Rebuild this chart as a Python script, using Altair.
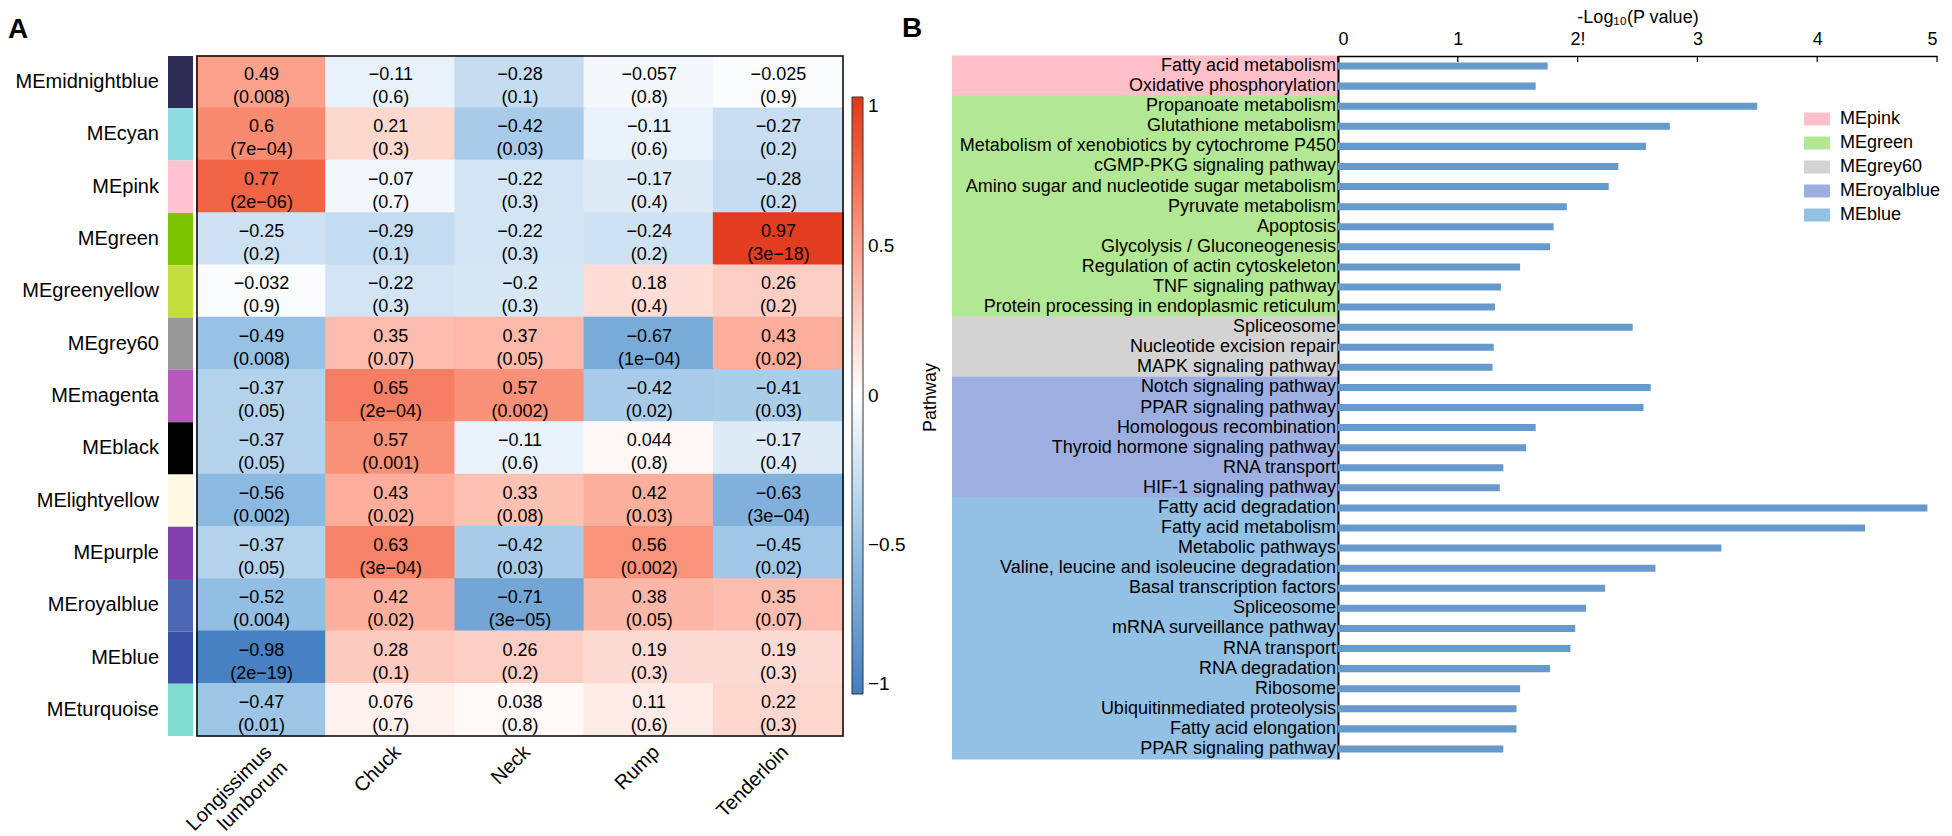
import altair as alt
import pandas as pd

FONT = "Liberation Sans"

# ---------------- Panel A data ----------------
modules = ["MEmidnightblue", "MEcyan", "MEpink", "MEgreen", "MEgreenyellow", "MEgrey60",
           "MEmagenta", "MEblack", "MElightyellow", "MEpurple", "MEroyalblue", "MEblue", "MEturquoise"]
module_colors = ["#2E2C55", "#8EDCE2", "#FFC2D1", "#7DC400", "#C3DE3C", "#999999",
                 "#B857BC", "#000000", "#FFF8E3", "#8241AE", "#4C68B3", "#3850A6", "#80DDD1"]
tissues = ["Longissimus\nlumborum", "Chuck", "Neck", "Rump", "Tenderloin"]
r_values = [
    [0.49, -0.11, -0.28, -0.057, -0.025],
    [0.6, 0.21, -0.42, -0.11, -0.27],
    [0.77, -0.07, -0.22, -0.17, -0.28],
    [-0.25, -0.29, -0.22, -0.24, 0.97],
    [-0.032, -0.22, -0.2, 0.18, 0.26],
    [-0.49, 0.35, 0.37, -0.67, 0.43],
    [-0.37, 0.65, 0.57, -0.42, -0.41],
    [-0.37, 0.57, -0.11, 0.044, -0.17],
    [-0.56, 0.43, 0.33, 0.42, -0.63],
    [-0.37, 0.63, -0.42, 0.56, -0.45],
    [-0.52, 0.42, -0.71, 0.38, 0.35],
    [-0.98, 0.28, 0.26, 0.19, 0.19],
    [-0.47, 0.076, 0.038, 0.11, 0.22],
]
p_values = [
    ["0.008", "0.6", "0.1", "0.8", "0.9"],
    ["7e-04", "0.3", "0.03", "0.6", "0.2"],
    ["2e-06", "0.7", "0.3", "0.4", "0.2"],
    ["0.2", "0.1", "0.3", "0.2", "3e-18"],
    ["0.9", "0.3", "0.3", "0.4", "0.2"],
    ["0.008", "0.07", "0.05", "1e-04", "0.02"],
    ["0.05", "2e-04", "0.002", "0.02", "0.03"],
    ["0.05", "0.001", "0.6", "0.8", "0.4"],
    ["0.002", "0.02", "0.08", "0.03", "3e-04"],
    ["0.05", "3e-04", "0.03", "0.002", "0.02"],
    ["0.004", "0.02", "3e-05", "0.05", "0.07"],
    ["2e-19", "0.1", "0.2", "0.3", "0.3"],
    ["0.01", "0.7", "0.8", "0.6", "0.3"],
]
colorbar_ticks = [-1, -0.5, 0, 0.5, 1]
heat_stops = [-1, -0.75, -0.5, -0.25, 0, 0.25, 0.5, 0.75, 1]
heat_colors = ["#447EC0", "#6CA0D2", "#96C1E4", "#CDE1F3", "#FFFFFF",
               "#FDD0C6", "#FCA08A", "#F2684A", "#E13719"]

# ---------------- Panel B data ----------------
pathways = [
    "Fatty acid metabolism", "Oxidative phosphorylation",
    "Propanoate metabolism", "Glutathione metabolism",
    "Metabolism of xenobiotics by cytochrome P450", "cGMP-PKG signaling pathway",
    "Amino sugar and nucleotide sugar metabolism", "Pyruvate metabolism", "Apoptosis",
    "Glycolysis / Gluconeogenesis", "Regulation of actin cytoskeleton", "TNF signaling pathway",
    "Protein processing in endoplasmic reticulum",
    "Spliceosome", "Nucleotide excision repair", "MAPK signaling pathway",
    "Notch signaling pathway", "PPAR signaling pathway", "Homologous recombination",
    "Thyroid hormone signaling pathway", "RNA transport", "HIF-1 signaling pathway",
    "Fatty acid degradation", "Fatty acid metabolism", "Metabolic pathways",
    "Valine, leucine and isoleucine degradation", "Basal transcription factors", "Spliceosome",
    "mRNA surveillance pathway", "RNA transport", "RNA degradation", "Ribosome",
    "Ubiquitinmediated proteolysis", "Fatty acid elongation", "PPAR signaling pathway",
]
pathway_modules = (["MEpink"] * 2 + ["MEgreen"] * 11 + ["MEgrey60"] * 3 +
                   ["MEroyalblue"] * 6 + ["MEblue"] * 13)
neglog10_p = [1.75, 1.65,
              3.50, 2.77, 2.57, 2.34, 2.26, 1.91, 1.80, 1.77, 1.52, 1.36, 1.31,
              2.46, 1.30, 1.29,
              2.61, 2.55, 1.65, 1.57, 1.38, 1.35,
              4.92, 4.40, 3.20, 2.65, 2.23, 2.07, 1.98, 1.94, 1.77, 1.52, 1.49, 1.49, 1.38]
legend_modules = ["MEpink", "MEgreen", "MEgrey60", "MEroyalblue", "MEblue"]
legend_colors = ["#FFC0CB", "#B2E893", "#D3D3D3", "#9DAFE0", "#92C1E5"]
axis_ticks = [0, 1, 2, 3, 4, 5]


def fmt(v):
    return str(v).replace("-", "\u2212")


rows = []
for i, m in enumerate(modules):
    for j, t in enumerate(tissues):
        rows.append({"module": m, "tissue": t, "r": r_values[i][j],
                     "label": fmt(r_values[i][j]) + "\n(" + p_values[i][j].replace("-", "\u2212") + ")"})
heat_df = pd.DataFrame(rows)
strip_df = pd.DataFrame({"module": modules, "hex": module_colors})
tissue_df = pd.DataFrame({"tissue": tissues})
path_df = pd.DataFrame({"idx": list(range(len(pathways))), "name": pathways,
                        "module": pathway_modules, "val": neglog10_p})
tick_df = pd.DataFrame({"t": axis_ticks})

# ---------------- Panel A ----------------
A_W, A_H = 646, 680
band0 = alt.Scale(paddingInner=0, paddingOuter=0)

strip_base = alt.Chart(strip_df).encode(
    y=alt.Y("module:N", sort=modules, axis=None, scale=band0))
strip_rect = strip_base.mark_rect().encode(
    x=alt.value(0), x2=alt.value(25),
    color=alt.Color("hex:N", scale=None))
strip_text = strip_base.mark_text(align="right", baseline="middle", fontSize=20,
                                  color="black").encode(
    x=alt.value(-9), text="module:N")
letter_a = alt.Chart(pd.DataFrame({"t": ["A"]})).mark_text(
    align="left", baseline="middle", fontSize=28, fontWeight="bold", color="black").encode(
    x=alt.value(-160), y=alt.value(-26), text="t:N")
strip = alt.layer(strip_rect, strip_text, letter_a).properties(
    width=29, height=A_H, view=alt.ViewBackground(strokeOpacity=0))

heat_scale = alt.Scale(domain=heat_stops, range=heat_colors, interpolate="rgb")
heat_base = alt.Chart(heat_df).encode(
    x=alt.X("tissue:N", sort=tissues, axis=None, scale=band0),
    y=alt.Y("module:N", sort=modules, axis=None, scale=band0))
heat_rect = heat_base.mark_rect(
    width=alt.RelativeBandSize(band=1.015), height=alt.RelativeBandSize(band=1.03)).encode(
    color=alt.Color("r:Q", scale=heat_scale,
                    legend=alt.Legend(orient="none", legendX=655, legendY=41,
                                      direction="vertical", gradientLength=597,
                                      gradientThickness=11, title=None, format="~g",
                                      values=colorbar_ticks, labelFontSize=19,
                                      labelBaseline="middle", labelOffset=5,
                                      labelColor="black",
                                      gradientStrokeColor="#333333", gradientStrokeWidth=1,
                                      padding=0)))
heat_text = heat_base.mark_text(fontSize=18, lineBreak="\n", lineHeight=23, dy=-7,
                                color="black", baseline="middle").encode(text="label:N")
col_labels = alt.Chart(tissue_df).mark_text(
    angle=315, align="right", baseline="top", fontSize=20, lineBreak="\n",
    color="black").encode(
    x=alt.X("tissue:N", sort=tissues, axis=None, scale=band0),
    y=alt.value(A_H + 6), text="tissue:N")
frame = alt.Chart(pd.DataFrame({"f": [0]})).mark_rect(
    fillOpacity=0, stroke="black", strokeWidth=1.5).encode(
    x=alt.value(0), x2=alt.value(A_W), y=alt.value(0), y2=alt.value(A_H))
heat = alt.layer(heat_rect, heat_text, col_labels, frame).properties(
    width=A_W, height=A_H, view=alt.ViewBackground(strokeOpacity=0))

# ---------------- Panel B ----------------
B_H = 703
GAP = 109
LAB_W = 386
mod_scale = alt.Scale(domain=legend_modules, range=legend_colors)
lab_base = alt.Chart(path_df).encode(
    y=alt.Y("idx:O", scale=band0, axis=None))
lab_rect = lab_base.mark_rect(height=alt.RelativeBandSize(band=1.06)).encode(
    x=alt.value(GAP), x2=alt.value(GAP + LAB_W),
    color=alt.Color("module:N", scale=mod_scale,
                    legend=alt.Legend(orient="none", legendX=961, legendY=50, title=None,
                                      symbolType="M-1,-0.5H1V0.5H-1Z", symbolSize=676,
                                      symbolStrokeWidth=0, symbolOpacity=1,
                                      labelFontSize=18, labelOffset=10, rowPadding=2,
                                      padding=0, labelColor="black")))
lab_text = lab_base.mark_text(align="right", baseline="middle", fontSize=18,
                              color="black").encode(x=alt.value(GAP + LAB_W - 2), text="name:N")
letter_b = alt.Chart(pd.DataFrame({"t": ["B"]})).mark_text(
    align="left", baseline="middle", fontSize=28, fontWeight="bold", color="black").encode(
    x=alt.value(59), y=alt.value(-27), text="t:N")
pathway_title = alt.Chart(pd.DataFrame({"t": ["Pathway"]})).mark_text(
    align="center", baseline="middle", fontSize=18, angle=270, color="black").encode(
    x=alt.value(88), y=alt.value(B_H / 2 - 10), text="t:N")
label_panel = alt.layer(lab_rect, lab_text, letter_b, pathway_title).properties(
    width=GAP + LAB_W, height=B_H, view=alt.ViewBackground(strokeOpacity=0))

bar_y = alt.Y("idx:O", scale=alt.Scale(paddingInner=0.65, paddingOuter=0.325),
              axis=alt.Axis(labels=False, ticks=False, title=None, domainColor="black",
                            domainWidth=2))
bars = alt.Chart(path_df).mark_bar(color="#6699CC").encode(
    y=bar_y,
    x=alt.X("val:Q", scale=alt.Scale(domain=[0, 5], nice=False),
            axis=alt.Axis(orient="top", values=axis_ticks, grid=False, ticks=False,
                          format="d",
                          labelExpr="datum.value == 2 ? '2!' : datum.label",
                          title="-Log\u2081\u2080(P  value)", titleFontSize=18,
                          titleFontWeight="normal", titlePadding=4, titleColor="black",
                          labelFontSize=18, labelPadding=8, labelColor="black",
                          domainColor="black", domainWidth=1.5)))
tick_rules = alt.Chart(tick_df).mark_rule(color="black", strokeWidth=1.2).encode(
    x=alt.X("t:Q", scale=alt.Scale(domain=[0, 5], nice=False)),
    y=alt.value(0), y2=alt.value(6))
bar_panel = alt.layer(bars, tick_rules).properties(
    width=599, height=B_H, view=alt.ViewBackground(strokeOpacity=0))

chart = alt.hconcat(strip, heat, label_panel, bar_panel, spacing=0, bounds="flush").resolve_scale(
    color="independent").properties(padding=0).configure(
    font=FONT).configure_view(strokeOpacity=0)

chart.save("out.html", embed_options={"renderer": "svg", "actions": False})
